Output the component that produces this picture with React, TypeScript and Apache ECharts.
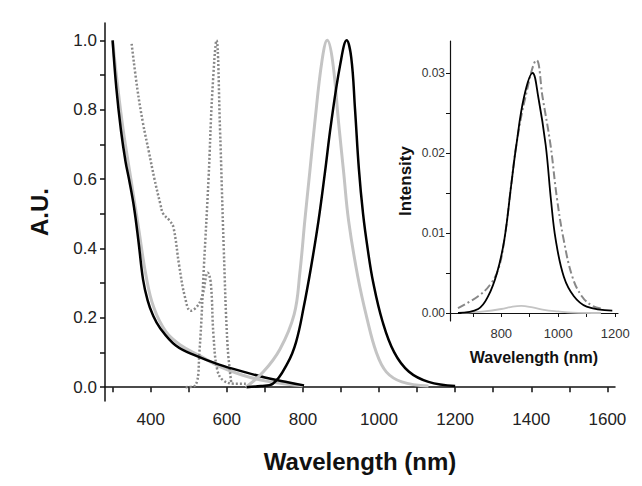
import { useEffect, useRef } from 'react';
import * as echarts from 'echarts';

// main panel: absorption / emission (nm, A.U.)
const absBlack = [[300, 1.0], [310, 0.86], [322, 0.74], [334, 0.65], [343, 0.6], [356, 0.52], [368, 0.42], [380, 0.31], [392, 0.25], [405, 0.21], [425, 0.17], [466, 0.12], [520, 0.09], [580, 0.065], [645, 0.044], [700, 0.028], [760, 0.014], [803, 0.005]];
const absGray = [[300, 1.0], [313, 0.87], [328, 0.74], [348, 0.6], [368, 0.46], [388, 0.32], [408, 0.23], [440, 0.16], [480, 0.12], [530, 0.09], [580, 0.06], [640, 0.035], [700, 0.018], [760, 0.008], [800, 0.004]];
const absDotted = [[350, 0.99], [365, 0.86], [380, 0.76], [395, 0.68], [410, 0.6], [425, 0.53], [433, 0.5], [450, 0.48], [460, 0.46], [475, 0.35], [490, 0.26], [505, 0.22], [520, 0.23], [535, 0.26], [550, 0.33], [558, 0.3], [565, 0.15], [575, 0.05], [590, 0.02], [620, 0.01], [650, 0.01]];
const emDotted = [[492, 0], [517, 0.005], [528, 0.1], [540, 0.35], [552, 0.6], [562, 0.85], [573, 1.0], [582, 0.75], [592, 0.4], [602, 0.12], [612, 0.01]];
const emGray = [[650, 0], [696, 0.044], [740, 0.11], [777, 0.21], [792, 0.33], [805, 0.48], [818, 0.62], [831, 0.76], [850, 0.94], [864, 1.0], [878, 0.94], [894, 0.76], [907, 0.62], [920, 0.48], [944, 0.32], [968, 0.2], [993, 0.1], [1019, 0.044], [1060, 0.015], [1130, 0.003]];
const emBlack = [[652, 0], [690, 0.003], [721, 0.01], [760, 0.07], [782, 0.13], [802, 0.23], [822, 0.35], [841, 0.48], [858, 0.62], [874, 0.76], [898, 0.93], [915, 1.0], [927, 0.95], [937, 0.8], [947, 0.63], [958, 0.5], [970, 0.4], [985, 0.3], [1009, 0.19], [1040, 0.1], [1078, 0.045], [1130, 0.015], [1200, 0.003]];

// inset: emission intensity
const inBlack = [[648, 0], [719, 0.0005], [754, 0.0021], [785, 0.005], [811, 0.0092], [835, 0.016], [853, 0.021], [880, 0.027], [910, 0.030], [930, 0.027], [956, 0.021], [975, 0.014], [991, 0.0092], [1020, 0.0045], [1055, 0.0021], [1100, 0.0008], [1190, 0.0003]];
const inDash = [[648, 0.0006], [719, 0.0021], [760, 0.0035], [790, 0.0055], [811, 0.0092], [835, 0.016], [853, 0.021], [885, 0.027], [924, 0.0316], [945, 0.027], [973, 0.021], [995, 0.0145], [1019, 0.0092], [1050, 0.0045], [1083, 0.0021], [1120, 0.0009], [1160, 0.0005]];
const inGray = [[660, 0], [740, 0.0002], [800, 0.0005], [840, 0.0008], [870, 0.0009], [910, 0.0007], [950, 0.0004], [1000, 0.0002], [1050, 0.00005], [1150, 0]];

const xTicks = [300, 400, 500, 600, 700, 800, 900, 1000, 1100, 1200, 1300, 1400, 1500, 1600];
const xLabels = [400, 600, 800, 1000, 1200, 1400, 1600];
const yTicks = [0, 0.1, 0.2, 0.3, 0.4, 0.5, 0.6, 0.7, 0.8, 0.9, 1.0];
const yLabels = [0, 0.2, 0.4, 0.6, 0.8, 1.0];
const inXTicks = [700, 800, 900, 1000, 1100, 1200];
const inXLabels = [800, 1000, 1200];
const inYTicks = [0, 0.005, 0.01, 0.015, 0.02, 0.025, 0.03];
const inYLabels = [0, 0.01, 0.02, 0.03];

const font = 'Liberation Sans, Arial, sans-serif';

export default function App() {
  const chartRef = useRef<HTMLDivElement>(null);

  useEffect(() => {
    if (!chartRef.current) return;
    const chart = echarts.init(chartRef.current, null, { renderer: 'svg' });

    const axisLine = { show: true, lineStyle: { color: '#111', width: 1.5 } };

    const line = (data: number[][], color: string, width: number, type: any, xi: number, yi: number) => ({
      type: 'line',
      data,
      xAxisIndex: xi,
      yAxisIndex: yi,
      smooth: 0.4,
      symbol: 'none',
      lineStyle: { color, width, type },
      emphasis: { disabled: true },
    });

    const option: echarts.EChartsOption = {
      animation: false,
      backgroundColor: '#fff',
      textStyle: { fontFamily: font },
      grid: [
        { left: 97, right: 19, top: 15, bottom: 76, containLabel: false },
        { left: 442, top: 33, width: 168, bottom: 157, containLabel: false },
      ],
      xAxis: [
        {
          type: 'value', gridIndex: 0, min: 280, max: 1620,
          name: 'Wavelength (nm)', nameLocation: 'middle', nameGap: 48,
          nameTextStyle: { fontSize: 24, fontWeight: 'bold', color: '#111', fontFamily: font },
          axisLine, splitLine: { show: false },
          axisTick: { customValues: xTicks, length: 5, lineStyle: { color: '#111', width: 1.5 } },
          axisLabel: { customValues: xLabels, fontSize: 17, color: '#222', margin: 10, formatter: (v: number) => String(v) },
        },
        {
          type: 'value', gridIndex: 1, min: 620, max: 1210,
          name: 'Wavelength (nm)', nameLocation: 'middle', nameGap: 28,
          nameTextStyle: { fontSize: 16, fontWeight: 'bold', color: '#111', fontFamily: font },
          axisLine: { show: true, lineStyle: { color: '#111', width: 1.2 } }, splitLine: { show: false },
          axisTick: { customValues: inXTicks, length: 4, lineStyle: { color: '#111' } },
          axisLabel: { customValues: inXLabels, fontSize: 13, color: '#333', margin: 6, formatter: (v: number) => String(v) },
        },
      ],
      yAxis: [
        {
          type: 'value', gridIndex: 0, min: -0.04, max: 1.05,
          name: 'A.U.', nameLocation: 'middle', nameGap: 54,
          nameTextStyle: { fontSize: 24, fontWeight: 'bold', color: '#111', fontFamily: font },
          axisLine, splitLine: { show: false },
          axisTick: { customValues: yTicks, length: 5, lineStyle: { color: '#111', width: 1.5 } },
          axisLabel: { customValues: yLabels, fontSize: 17, color: '#222', formatter: (v: number) => v.toFixed(1) },
        },
        {
          type: 'value', gridIndex: 1, min: -0.001, max: 0.034,
          name: 'Intensity', nameLocation: 'middle', nameGap: 36,
          nameTextStyle: { fontSize: 17, fontWeight: 'bold', color: '#111', fontFamily: font },
          axisLine: { show: true, lineStyle: { color: '#111', width: 1.2 } }, splitLine: { show: false },
          axisTick: { customValues: inYTicks, length: 4, lineStyle: { color: '#111' } },
          axisLabel: { customValues: inYLabels, fontSize: 12, color: '#333', margin: 5, formatter: (v: number) => v.toFixed(2) },
        },
      ],
      series: [
        line(absGray, '#c4c4c4', 3, 'solid', 0, 0),
        line(absDotted, '#888', 2.5, [2, 2], 0, 0),
        line(emDotted, '#888', 2.5, [2, 2], 0, 0),
        line(absBlack, '#000', 2.5, 'solid', 0, 0),
        line(emGray, '#c4c4c4', 3, 'solid', 0, 0),
        line(emBlack, '#000', 2.5, 'solid', 0, 0),
        line(inGray, '#c4c4c4', 1.8, 'solid', 1, 1),
        line(inDash, '#888', 2, [8, 3, 2, 3], 1, 1),
        line(inBlack, '#000', 1.8, 'solid', 1, 1),
      ] as any,
    };

    chart.setOption(option);
    return () => chart.dispose();
  }, []);

  return <div ref={chartRef} style={{ width: 626, height: 470 }} />;
}
